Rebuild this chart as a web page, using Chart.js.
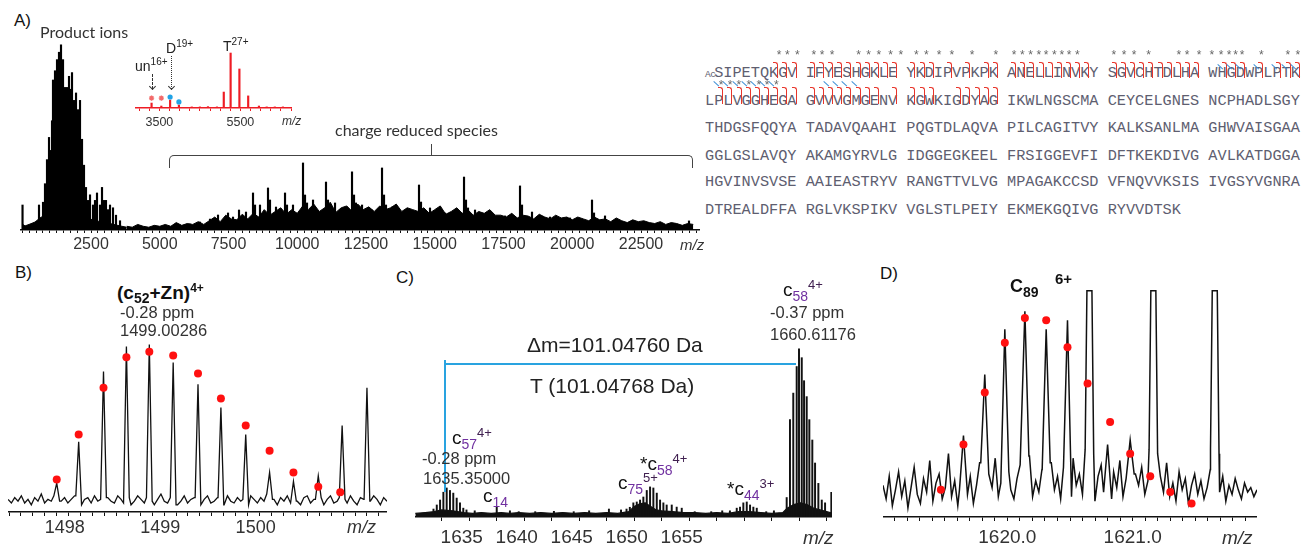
<!DOCTYPE html>
<html>
<head>
<meta charset="utf-8">
<title>ADH top-down spectra</title>
<script src="https://cdn.jsdelivr.net/npm/chart.js@4.4.1/dist/chart.umd.min.js"></script>
<style>
  body { margin: 0; background: #fff; width: 1303px; height: 544px; position: relative; overflow: hidden;
         font-family: "Liberation Sans", Arial, sans-serif; color: #111; }
  .c { position: absolute; }
  .t { position: absolute; white-space: nowrap; line-height: 1; }
  .seq { position: absolute; white-space: pre; font-family: "Liberation Mono", "Courier New", monospace;
         font-size: 15.25px; line-height: 1; color: #5e5e70; }
  .ac { display: inline-block; width: 9.15px; font-size: 9.5px; letter-spacing: -0.5px; }
  .hook { position: absolute; border-top: 1.5px solid #e8352b; border-right: 1.5px solid #e8352b;
          border-top-right-radius: 3px; width: 4px; }
  .zm { position: absolute; width: 7px; border-top: 1.5px solid #3d8fd6; transform: rotate(42deg); transform-origin: 0 0; }
  .ast { position: absolute; font-family: "Liberation Mono", monospace; font-size: 12px; line-height: 1; color: #666; }
  .sb { position: relative; color: #7030a0; }
  .sp { position: relative; }
</style>
</head>
<body>
<div class="c" style="left:20px;top:30px"><canvas id="chA" width="680" height="226"></canvas></div>
<div class="c" style="left:135px;top:50px"><canvas id="chIn" width="160" height="78"></canvas></div>
<div class="c" style="left:8px;top:332px"><canvas id="chB" width="379" height="210"></canvas></div>
<div class="c" style="left:415px;top:340px"><canvas id="chC" width="417" height="204"></canvas></div>
<div class="c" style="left:883px;top:289px"><canvas id="chD" width="374" height="255"></canvas></div>

<script>
// ---------- A) full spectrum (m/z, relative intensity)
var aStickMz = [10,609,755,827,864,900,936,973,1009,1045,1082,1118,1155,1191,1227,1264,1300,1336,1373,1409,
  1445,1482,1518,1555,1591,1627,1664,1700,1736,1773,1809,1845,1882,1918,1955,1991,2027,2064,2100,2136,
  2173,2209,2245,2318,2391,2464,2573,2645,2718,2827,2900,2973,3045,3118,3191,3300,3409,3555,
  6464,7118,7482,7882,8391,8936,9555,10209,11045,11991,13082,14427,16064,18100,20718,24245,
  6100,6827,7664,8136,8645,9227,9845,10573,11373,12355,12718,13445,13918,14827,15373,16464,17009,17555,
  18536,19191,19918,21191,21736,22464,23191,23736,
  8464,9009,9627,10282,10355,11118,12064,12136,13155,13227,14500,16136,16209,18173,20791];
var aStickInt = [13.5,13.5,15,25,22,38,30,50,41,43,59,81,65,86,73,92,78,96,84,100,
  86,92,73,77,65,77,59,83,68,76,85,62,70,54,74,49,65,43,70,38,
  49,30,35,23,16,19,13.5,16,20,13.5,23,16,16,11,13.5,12,8,5,
  4.3,8.1,9.2,10.8,20,22.7,20,36.2,25.9,31.4,33.5,24.3,28.6,23.8,16.2,4.9,
  3.2,5.9,7,9.7,13.5,12.4,13.5,16.2,14.6,13.5,10.8,12.4,9.7,11.9,9.2,10.8,8.1,7.6,
  9.7,7,6.5,7.6,4.3,3.8,3.2,3.2,
  13.5,16.2,13.5,18.9,14.6,16.2,18.9,14.6,18.9,13.5,15.1,16.2,11.9,13.5,9.2];
// solid base under the product-ion cluster
var aEnvMz = [0,100,282,464,645,827,1009,1191,1373,1555,1736,1918,2100,2282,2464,2827,3191,3555,3800];
var aEnvInt = [3.2,2.2,3.2,4.3,6.5,8.1,18.9,32.4,37.8,35.1,29.7,21.6,13.5,8.1,5.9,4.5,3.5,2.2,1.5];
// jagged baseline band of the charge-reduced region (3800 .. 24400, evenly sampled)
var aGrassMin = 3800, aGrassMax = 24400;
var aGrass = [2,1.5,3,2,1.5,2.5,2,
  3,2,4,2.5,3.5,3,4.5,3,
  5,7,4.5,8,6,5.5,8.5,6,
  9,7,11,8,10,12,8.5,11,9,13,
  11,14,10,12,15,9.5,12,13,10,14,11,12.5,10,13,11,12,14,10,12,11,
  10,12,9,11,13,8.5,10,12,9,11,8,10,9,11,8,
  8,7,9,6.5,8,7.5,6,8.5,7,6,8,6.5,7,5.5,7,
  6,5,7,5.5,6,4.5,6.5,5,4,5.5,4.5,5,4,3.5,4.5,3,4,3.5,2.5,3.5,3];
var aTickLabels = [2500,5000,7500,10000,12500,15000,17500,20000,22500];

// inset (red)
var inMz = [3307,3548,3765,3982,4300,4500,4700,4922,5090,5259,5476,5693,5958,6150,6350,6550];
var inInt = [9,3.6,14.5,5.5,2,2,2.5,2,29,100,71,22,3.6,2,2,2];
var inStarMz = [3307,3548], inStarInt = [18,18];
var inDotMz = [3765,3982], inDotInt = [20,11];
var inTickLabels = [3500,5500];

// ---------- B) (c52+Zn)4+
var bPeakMz = [1498.00,1498.23,1498.49,1498.73,1498.97,1499.22,1499.48,1499.72,1499.98,1500.23,1500.48,1500.74,1500.99,1501.25];
var bPeakInt = [16,39,78,92,93,83,71,58,43,22,17,20,48,69];
var bDotMz = [1498.00,1498.23,1498.49,1498.73,1498.97,1499.22,1499.48,1499.72,1499.98,1500.23,1500.48,1500.74,1500.97];
var bDotInt = [18,43,69,86,89,87,77,63,48,34,22,14,11];
var bNoise = [7,5,8,6,9,5,7,4,8,6, 10,5,7,6,9,4,6,8,5,7, 9,6,4,7,8,5,9,6,7,4, 8,6,5,9,7,5,8,4,6,9,
  7,5,8,6,4,7,10,6,5,8, 7,4,6,9,5,7,8,6,4,7, 9,5,6,8,7,4,9,6,5,8, 6,7,4,9,7,5,8,6,10,5,
  7,4,8,6,9,5,7,6,4,8, 9,5,7,6,8,4,7,9,5,6, 8,7,5,9,6,4,8,7,5,6, 9,7,4,8,6];
var bTickLabels = [1498,1499,1500];

// ---------- C) c57 / c58
var cStickMz = [1634.25,1634.55,1634.85,1635.15,1635.45,1635.75,1636.05,1636.36,1636.66,1636.96,1637.25,
  1638.0,1640.0,1641.2,1642.0,1643.5,1645.2,1647.0,1648.4,1650.2,1651.3,
  1651.8,1652.1,1652.42,1652.73,1653.03,1653.33,1653.64,1653.94,1654.24,1654.55,1654.85,1655.15,1655.45,1655.91,1656.36,1656.82,
  1658.0,1659.5,1660.5,1661.2,
  1661.82,1662.12,1662.42,1662.73,1663.03,1663.33,1663.64,1664.5,1665.2,
  1666.36,1666.66,1666.96,1667.27,1667.48,1667.73,1667.94,1668.18,1668.42,1668.69,1668.94,1669.24,1669.55,1669.85,1670.42];
var cStickInt = [4.5,6.8,9.6,14,16.4,15,13.5,10.7,8,5,4,
  3.5,5.6,3.5,3,3,3.2,3,3.5,4.5,4,
  4.5,5.5,8,8.5,9.6,11.3,15,17,16.4,13.5,9.6,8,6.8,6.8,5.6,5,
  3,3,3.5,3.5,
  5,5.6,8,8.5,6.8,5.6,5,3,3.5,
  11,55,70,85,95,90,77,68,55,43.5,30.5,19,9.6,8,14];
var cBaseMz = [1632.6,1633.5,1634.3,1635.0,1636.0,1637.0,1637.8,1638.6,1639.5,1640.4,1641.2,1642.0,1643.0,1644.0,
  1645.0,1646.0,1647.0,1648.0,1649.0,1650.0,1651.0,1652.0,1652.5,1653.0,1653.5,1654.0,1654.5,1655.0,1656.0,
  1657.0,1658.0,1659.0,1660.0,1661.0,1662.0,1663.0,1664.0,1665.0,1666.0,1666.4,1667.0,1667.6,1668.2,1668.8,
  1669.4,1670.0,1670.6];
var cBaseInt = [2,2.5,3,4,3.5,2.5,2,2.5,2,2.5,2,2.5,2,2.5,
  2,2.5,2,2.5,2,2.5,2,3,6,7.5,8,6,4,3.5,3,
  2.5,2.5,2,2.5,2,3,3,2.5,2,2.5,5,7,8,7,5,
  4,3,2];
var cTickLabels = [1635,1640,1645,1650,1655];

// ---------- D) c89 6+
var dPeakMz = [1619.65,1619.82,1619.98,1620.14,1620.31,1620.48,1620.80,1620.98];
var dPeakInt = [36,63,83,91,83,87,32,34];
var dSatMz = [1620.655,1621.165,1621.655];
var dSatInt = [100,100,100];
var dDotMz = [1619.47,1619.65,1619.82,1619.98,1620.14,1620.31,1620.48,1620.64,1620.82,1620.98,1621.14,1621.30,1621.47];
var dDotInt = [12,32,55,77,88,87,75,59,42,28,18,11,6];
var dNoise = [14,8,18,5,12,20,9,16,4,13, 22,10,6,17,11,25,7,15,19,8, 13,28,9,16,5,12,21,10,18,6,
  14,24,11,7,19,13,26,9,15,6, 20,12,8,17,23,10,14,27,9,16, 11,21,7,15,24,12,18,8,22,13,
  9,26,14,19,10,16,29,12,7,18, 23,11,15,8,20,13,25,9,17,12, 6,19,14,22,10,16,8,21,13,18,
  11,24,9,15,7,20,12,17,6,14, 19,10,16,8,13,21,9,15,11,18, 7,14,10,17,12,8,15,11,13,9,12];
var dTickLabels = [1620.0,1621.0];

// ---------- sequence (yeast ADH1) and fragment marks
var seqLines = [
  "SIPETQKGV IFYESHGKLE YKDIPVPKPK ANELLINVKY SGVCHTDLHA WHGDWPLPTK",
  "LPLVGGHEGA GVVVGMGENV KGWKIGDYAG IKWLNGSCMA CEYCELGNES NCPHADLSGY",
  "THDGSFQQYA TADAVQAAHI PQGTDLAQVA PILCAGITVY KALKSANLMA GHWVAISGAA",
  "GGLGSLAVQY AKAMGYRVLG IDGGEGKEEL FRSIGGEVFI DFTKEKDIVG AVLKATDGGA",
  "HGVINVSVSE AAIEASTRYV RANGTTVLVG MPAGAKCCSD VFNQVVKSIS IVGSYVGNRA",
  "DTREALDFFA RGLVKSPIKV VGLSTLPEIY EKMEKGQIVG RYVVDTSK"];
var cutRed1 = [7,8,9,11,12,13,14,15,16,17,18,19,20,22,23,24,26,28,30,31,33,34,35,36,37,38,39,40,41,
  44,45,46,47,48,49,50,51,52,53,56,57,58,60,62,63,64];
var cutBlue1 = [56,57,58,60,62,63,64];
var cutRed2 = [1,2,3,4,5,6,7,8,9,11,12,13,14,15,16,17,18,20,22,23,24,27,28,29,30,31];
var cutBlue2 = [1,2,3,4,5,6,7,13,14,15,16];
var star1 = [7.2,8.1,9.2,11,11.9,13,15.9,17,18.1,19.4,20.5,22.2,23.3,24.7,26.1,28.3,30.9,32.9,33.8,34.7,35.6,
  36.4,37.3,38.1,38.9,39.8,43.8,44.9,46,47.6,50.9,51.8,53.1,54.5,55.5,56.4,57.1,57.8,59.9,62.8,63.9];
var star2 = [0.86,1.84,2.8,3.9,5.0,5.9,6.9];

// ---------------------------------------------------------------
function pairs(xs, ys) {
  var out = [];
  for (var i = 0; i < xs.length; i++) out.push({x: xs[i], y: ys[i]});
  return out;
}
function evenPairs(xmin, xmax, ys) {
  var out = [], step = (xmax - xmin) / (ys.length - 1);
  for (var i = 0; i < ys.length; i++) out.push({x: xmin + i * step, y: ys[i]});
  return out;
}

// noise trace with peaks dropped in (profile spectrum)
function profileLine(xmin, xmax, noise, peakMz, peakInt, halfW, flatW) {
  var step = (xmax - xmin) / (noise.length - 1);
  var pts = [];
  function noiseAt(x) {
    var i = Math.round((x - xmin) / step);
    i = Math.max(0, Math.min(noise.length - 1, i));
    return noise[i];
  }
  for (var i = 0; i < noise.length; i++) {
    var x = xmin + i * step, skip = false;
    for (var j = 0; j < peakMz.length; j++) {
      if (Math.abs(x - peakMz[j]) < halfW + flatW) skip = true;
    }
    if (!skip) pts.push({x: x, y: noise[i]});
  }
  for (var j = 0; j < peakMz.length; j++) {
    var m = peakMz[j];
    pts.push({x: m - halfW - flatW, y: noiseAt(m - halfW - flatW)});
    pts.push({x: m - flatW, y: peakInt[j]});
    if (flatW > 0) pts.push({x: m + flatW, y: peakInt[j]});
    pts.push({x: m + halfW + flatW, y: noiseAt(m + halfW + flatW)});
  }
  pts.sort(function(a, b) { return a.x - b.x; });
  return pts;
}

function isLabel(list, v) {
  for (var i = 0; i < list.length; i++) if (Math.abs(list[i] - v) < 1e-6) return true;
  return false;
}

function opts(p) {
  var col = p.axisColor || '#111';
  return {
    responsive: false, animation: false, devicePixelRatio: 1,
    layout: {padding: 0, autoPadding: false},
    plugins: {legend: {display: false}, tooltip: {enabled: false}},
    scales: {
      x: {
        type: 'linear', min: p.min, max: p.max, offset: false,
        afterFit: function(s) { s.height = p.axisH; },
        afterBuildTicks: function(s) {
          var t = [];
          for (var k = Math.ceil(p.min / p.step - 1e-9); k * p.step <= p.max + 1e-9; k++) {
            t.push({value: Math.round(k * p.step * 1e6) / 1e6});
          }
          s.ticks = t;
        },
        border: {display: true, color: col, width: 1.5},
        grid: {display: true, offset: false, drawOnChartArea: false, drawTicks: true,
               tickLength: p.tickLen, color: col, lineWidth: 1},
        ticks: {
          stepSize: p.step, autoSkip: false, maxTicksLimit: 1000, sampleSize: 1000,
          maxRotation: 0, minRotation: 0, includeBounds: false,
          padding: p.pad, labelOffset: p.labelOffset || 0, color: '#333',
          font: {family: 'Liberation Sans', size: p.font},
          callback: function(v) { return isLabel(p.labels, v) ? p.fmt(v) : ''; }
        }
      },
      y: {display: false, min: 0, max: p.ymax}
    }
  };
}

function plain(v) { return String(v); }

// A
new Chart(document.getElementById('chA'), {
  type: 'bar',
  data: {datasets: [
    {type: 'bar', data: pairs(aStickMz, aStickInt), backgroundColor: '#000', barThickness: 1.5, grouped: false},
    {type: 'line', data: pairs(aEnvMz, aEnvInt), borderColor: '#000', borderWidth: 1,
     backgroundColor: '#000', fill: 'origin', pointRadius: 0, tension: 0},
    {type: 'line', data: evenPairs(aGrassMin, aGrassMax, aGrass), borderColor: '#000', borderWidth: 1,
     backgroundColor: '#000', fill: 'origin', pointRadius: 0, tension: 0}
  ]},
  options: opts({min: -82, max: 24645, ymax: 108, axisH: 26, tickLen: 3, pad: 2, step: 250,
                 font: 16, labels: aTickLabels, fmt: plain})
});

// inset
new Chart(document.getElementById('chIn'), {
  type: 'bar',
  data: {datasets: [
    {type: 'line', data: pairs(inDotMz, inDotInt), showLine: false, pointRadius: 2.6,
     pointBackgroundColor: '#1fa3e6', pointBorderWidth: 0},
    {type: 'line', data: pairs(inStarMz, inStarInt), showLine: false, pointStyle: 'star', pointRadius: 2.6,
     pointBorderColor: '#f26a6a', pointBorderWidth: 1.3},
    {type: 'bar', data: pairs(inMz, inInt), backgroundColor: '#ee1c24', barThickness: 1.5, grouped: false}
  ]},
  options: opts({min: 2898, max: 6753, ymax: 105.5, axisH: 20, tickLen: 3, pad: 4, step: 250,
                 font: 12.5, labels: inTickLabels, fmt: plain, axisColor: '#ee1c24'})
});

// B
new Chart(document.getElementById('chB'), {
  type: 'line',
  data: {datasets: [
    {data: pairs(bDotMz, bDotInt), showLine: false, pointRadius: 4, pointBackgroundColor: '#ff1010', pointBorderWidth: 0},
    {data: profileLine(1497.49, 1501.46, bNoise, bPeakMz, bPeakInt, 0.03, 0),
     borderColor: '#111', borderWidth: 1.3, pointRadius: 0, tension: 0}
  ]},
  options: opts({min: 1497.49, max: 1501.46, ymax: 100, axisH: 30, tickLen: 4, pad: 1, step: 0.125,
                 font: 18, labels: bTickLabels, fmt: plain, labelOffset: 8})
});

// C
new Chart(document.getElementById('chC'), {
  type: 'bar',
  data: {datasets: [
    {type: 'bar', data: pairs(cStickMz, cStickInt), backgroundColor: '#111', barThickness: 1.3, grouped: false},
    {type: 'line', data: pairs(cBaseMz, cBaseInt), borderColor: '#111', borderWidth: 1.2,
     backgroundColor: '#111', fill: 'origin', pointRadius: 0, tension: 0}
  ]},
  options: opts({min: 1632.57, max: 1670.48, ymax: 100, axisH: 27, tickLen: 4, pad: 5, step: 2.5,
                 font: 19, labels: cTickLabels, fmt: plain, labelOffset: 20})
});

// D
var dLine = profileLine(1619.008, 1621.992, dNoise, dPeakMz, dPeakInt, 0.032, 0)
  .filter(function(pt) {
    for (var j = 0; j < dSatMz.length; j++) if (Math.abs(pt.x - dSatMz[j]) < 0.034) return false;
    return true;
  });
for (var s = 0; s < dSatMz.length; s++) {
  dLine.push({x: dSatMz[s] - 0.034, y: 30}, {x: dSatMz[s] - 0.02, y: dSatInt[s]},
             {x: dSatMz[s] + 0.02, y: dSatInt[s]}, {x: dSatMz[s] + 0.034, y: 28});
}
dLine.sort(function(a, b) { return a.x - b.x; });
new Chart(document.getElementById('chD'), {
  type: 'line',
  data: {datasets: [
    {data: pairs(dDotMz, dDotInt), showLine: false, pointRadius: 4, pointBackgroundColor: '#ff1010', pointBorderWidth: 0},
    {data: dLine, borderColor: '#111', borderWidth: 1.5, pointRadius: 0, tension: 0}
  ]},
  options: opts({min: 1619.008, max: 1621.992, ymax: 100.8, axisH: 27, tickLen: 4, pad: 5, step: 0.1,
                 font: 19, labels: dTickLabels, fmt: function(v) { return v.toFixed(1); }})
});

// ---------------------------------------------------------------
// text and annotation marks
function txt(html, left, cy, size, css) {
  var d = document.createElement('div');
  d.className = 't';
  d.innerHTML = html;
  d.style.left = left + 'px';
  d.style.top = (cy - 0.5 * size) + 'px';
  d.style.fontSize = size + 'px';
  if (css) d.style.cssText += css;
  document.body.appendChild(d);
  return d;
}
function box(left, top, w, h, css) {
  var d = document.createElement('div');
  d.style.cssText = 'position:absolute;left:' + left + 'px;top:' + top + 'px;width:' + w + 'px;height:' + h + 'px;' + css;
  document.body.appendChild(d);
  return d;
}

// panel A
txt('A)', 14, 20, 17);
txt('Product ions', 40, 32, 16, 'font-family:Lato,"Open Sans",sans-serif;color:#333');
txt('charge reduced species', 335, 130, 16, 'font-family:Lato,"Open Sans",sans-serif;color:#333');
txt('<i>m/z</i>', 680, 244, 15, 'color:#333');
box(169, 155, 524, 13, 'border:1.3px solid #444;border-bottom:none;border-radius:5px 5px 0 0;box-sizing:border-box');
box(431, 144, 0, 11, 'border-left:1.3px solid #444');
// inset labels
txt('un<span class="sp" style="font-size:10px;top:-6px">16+</span>', 135, 66, 14, 'color:#222');
txt('D<span class="sp" style="font-size:10px;top:-6px">19+</span>', 166, 48, 14, 'color:#222');
txt('T<span class="sp" style="font-size:10px;top:-6px">27+</span>', 223, 46, 14, 'color:#222');
txt('<i>m/z</i>', 282, 121, 12, 'color:#333');
box(152, 74, 0, 15, 'border-left:1.2px dashed #333');
box(149.5, 84, 4, 4, 'border-right:1.2px solid #333;border-bottom:1.2px solid #333;transform:rotate(45deg)');
box(171, 56, 0, 33, 'border-left:1.2px dotted #333');
box(168.5, 84, 4, 4, 'border-right:1.2px solid #333;border-bottom:1.2px solid #333;transform:rotate(45deg)');

// sequence
var seqX0 = 705, seqPitch = 9.15, seqY = [73, 101, 128, 156, 182, 210];
for (var L = 0; L < seqLines.length; L++) {
  var d = document.createElement('div');
  d.className = 'seq';
  d.style.left = seqX0 + 'px';
  d.style.top = (seqY[L] - 0.44 * 15.25) + 'px';
  d.innerHTML = (L === 0 ? '<span class="ac">Ac</span>' : '') + seqLines[L];
  document.body.appendChild(d);
}
function edge(b) { return seqX0 + (b + 1) * seqPitch; }
cutRed1.forEach(function(b) { var h = box(edge(b) - 5, 62, 4, 15, ''); h.className = 'hook'; });
cutRed2.forEach(function(b) { var h = box(edge(b) - 5, 87, 4, 16, ''); h.className = 'hook'; });
cutBlue1.forEach(function(b) { var z = box(edge(b) - 9, 64, 7, 0, ''); z.className = 'zm'; });
cutBlue2.forEach(function(b) { var z = box(edge(b) - 9, 81, 7, 0, ''); z.className = 'zm'; });
star1.forEach(function(b) { var a = txt('*', edge(b) - 4.6, 53, 12, ''); a.className = 'ast'; a.style.top = '50px'; });
star2.forEach(function(b) { var a = txt('*', edge(b) - 4.6, 83, 12, ''); a.className = 'ast'; a.style.top = '80px'; });

// panel B
txt('B)', 15, 272, 17);
txt('(c<span class="sp" style="font-size:14px;top:4px">52</span>+Zn)<span class="sp" style="font-size:12px;top:-7px">4+</span>',
    117, 292, 19, 'font-weight:bold;color:#111');
txt('-0.28 ppm', 120, 312, 16.5, 'color:#333');
txt('1499.00286', 120, 330, 16.5, 'color:#333');
txt('<i>m/z</i>', 347, 527, 18, 'color:#333');

// panel C
txt('C)', 396, 277, 17);
txt('c<span class="sb" style="font-size:14px;top:5px">58</span><span class="sp" style="font-size:13px;top:-7px;color:#402050">4+</span>',
    783, 289, 19, '');
txt('-0.37 ppm', 770, 312, 16.5, 'color:#333');
txt('1660.61176', 770, 334, 16.5, 'color:#333');
txt('&Delta;m=101.04760 Da', 527, 344, 21, 'color:#222');
txt('T (101.04768 Da)', 530, 385, 21, 'color:#222');
box(444, 360, 0, 132, 'border-left:2px solid #29a3e0');
box(444, 363, 352, 0, 'border-top:2px solid #29a3e0');
txt('c<span class="sb" style="font-size:14px;top:5px">57</span><span class="sp" style="font-size:13px;top:-7px;color:#402050">4+</span>',
    452, 437, 19, '');
txt('-0.28 ppm', 422, 458, 16.5, 'color:#333');
txt('1635.35000', 423, 478, 16.5, 'color:#333');
txt('c<span class="sb" style="font-size:14px;top:5px">14</span>', 483, 495, 19, '');
txt('*c<span class="sb" style="font-size:14px;top:5px">58</span><span class="sp" style="font-size:13px;top:-7px;color:#402050">4+</span>',
    640, 463, 19, '');
txt('c<span class="sb" style="font-size:14px;top:5px">75</span><span class="sp" style="font-size:13px;top:-7px;color:#402050">5+</span>',
    618, 482, 19, '');
txt('*c<span class="sb" style="font-size:14px;top:5px">44</span><span class="sp" style="font-size:13px;top:-7px;color:#402050">3+</span>',
    727, 488, 19, '');
txt('<i>m/z</i>', 803, 537, 19, 'color:#333');

// panel D
txt('D)', 880, 273, 17);
txt('C<span class="sp" style="font-size:14px;top:5px">89</span>', 1010, 286, 18, 'font-weight:bold');
txt('6+', 1055, 278, 15, 'font-weight:bold');
txt('<i>m/z</i>', 1222, 537, 19, 'color:#333');
</script>
</body>
</html>
